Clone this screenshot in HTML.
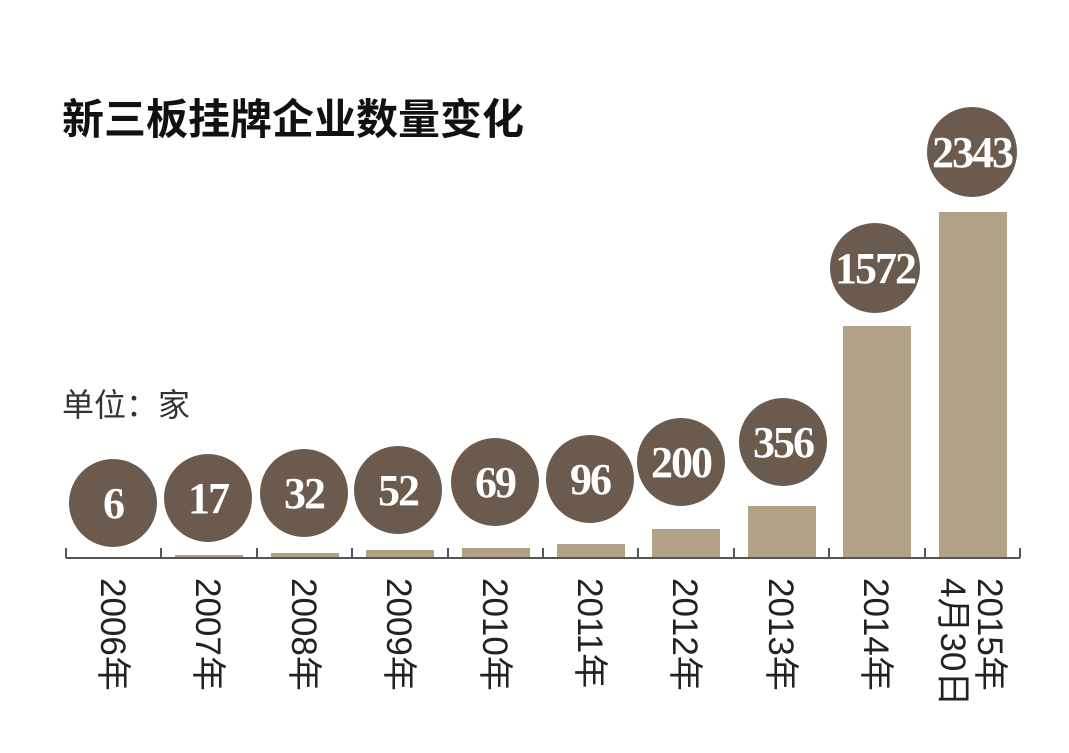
<!DOCTYPE html>
<html><head><meta charset="utf-8"><style>
body{margin:0;background:#fff;}
svg text{font-family:"Liberation Sans","Noto Sans CJK SC",sans-serif;}
svg .n text{font-family:"Liberation Serif","Noto Serif CJK SC",serif;font-weight:bold;fill:#fff;text-anchor:middle;letter-spacing:-2px}
.lab{font-size:35px;fill:#222;}
</style></head><body>
<svg width="1069" height="748" viewBox="0 0 1069 748">
<text x="62" y="134" font-size="42" font-weight="bold" fill="#111" style="font-family:'Noto Sans CJK SC',sans-serif">新三板挂牌企业数量变化</text>
<text x="62" y="416" font-size="32" fill="#333" style="font-family:'Noto Sans CJK SC',sans-serif">单位：家</text>
<g fill="#b3a386">
<rect x="80" y="557" width="68" height="1"/>
<rect x="175" y="555" width="68" height="3"/>
<rect x="271" y="553" width="68" height="5"/>
<rect x="366" y="550" width="68" height="8"/>
<rect x="462" y="548" width="68" height="10"/>
<rect x="557" y="544" width="68" height="14"/>
<rect x="652" y="529" width="68" height="29"/>
<rect x="748" y="506" width="68" height="52"/>
<rect x="843" y="326" width="68" height="232"/>
<rect x="939" y="212" width="68" height="346"/>
</g>
<path d="M66 558H1020" stroke="#555" stroke-width="2"/>
<g stroke="#555" stroke-width="2">
<path d="M66 548V558M161 548V558M257 548V558M352 548V558M448 548V558M543 548V558M638 548V558M734 548V558M829 548V558M925 548V558M1020 548V558"/>
</g>
<g fill="#6b5a4e">
<circle cx="113" cy="503" r="44"/><circle cx="208" cy="498" r="44"/><circle cx="304" cy="493" r="44"/>
<circle cx="398" cy="490" r="44"/><circle cx="495" cy="482" r="44"/><circle cx="590" cy="479" r="44"/>
<circle cx="681" cy="462" r="44"/><circle cx="783" cy="442" r="44"/><circle cx="875" cy="268" r="45"/>
<circle cx="972" cy="152" r="45"/>
</g>
<g class="n" font-size="44">
<text x="113" y="518">6</text><text x="208" y="513">17</text><text x="304" y="508">32</text>
<text x="398" y="505">52</text><text x="495" y="497">69</text><text x="590" y="494">96</text>
<text x="681" y="477">200</text><text x="783" y="457">356</text><text x="875" y="283">1572</text>
<text x="972" y="167">2343</text>
</g>
<g class="lab">
<text transform="translate(101,578) rotate(90)">2006年</text>
<text transform="translate(196,578) rotate(90)">2007年</text>
<text transform="translate(292,578) rotate(90)">2008年</text>
<text transform="translate(387,578) rotate(90)">2009年</text>
<text transform="translate(483,578) rotate(90)">2010年</text>
<text transform="translate(578,578) rotate(90)">2011年</text>
<text transform="translate(673,578) rotate(90)">2012年</text>
<text transform="translate(769,578) rotate(90)">2013年</text>
<text transform="translate(864,578) rotate(90)">2014年</text>
<text transform="translate(978,578) rotate(90)">2015年</text>
<text transform="translate(941,578) rotate(90)">4月30日</text>
</g>
</svg>
</body></html>
